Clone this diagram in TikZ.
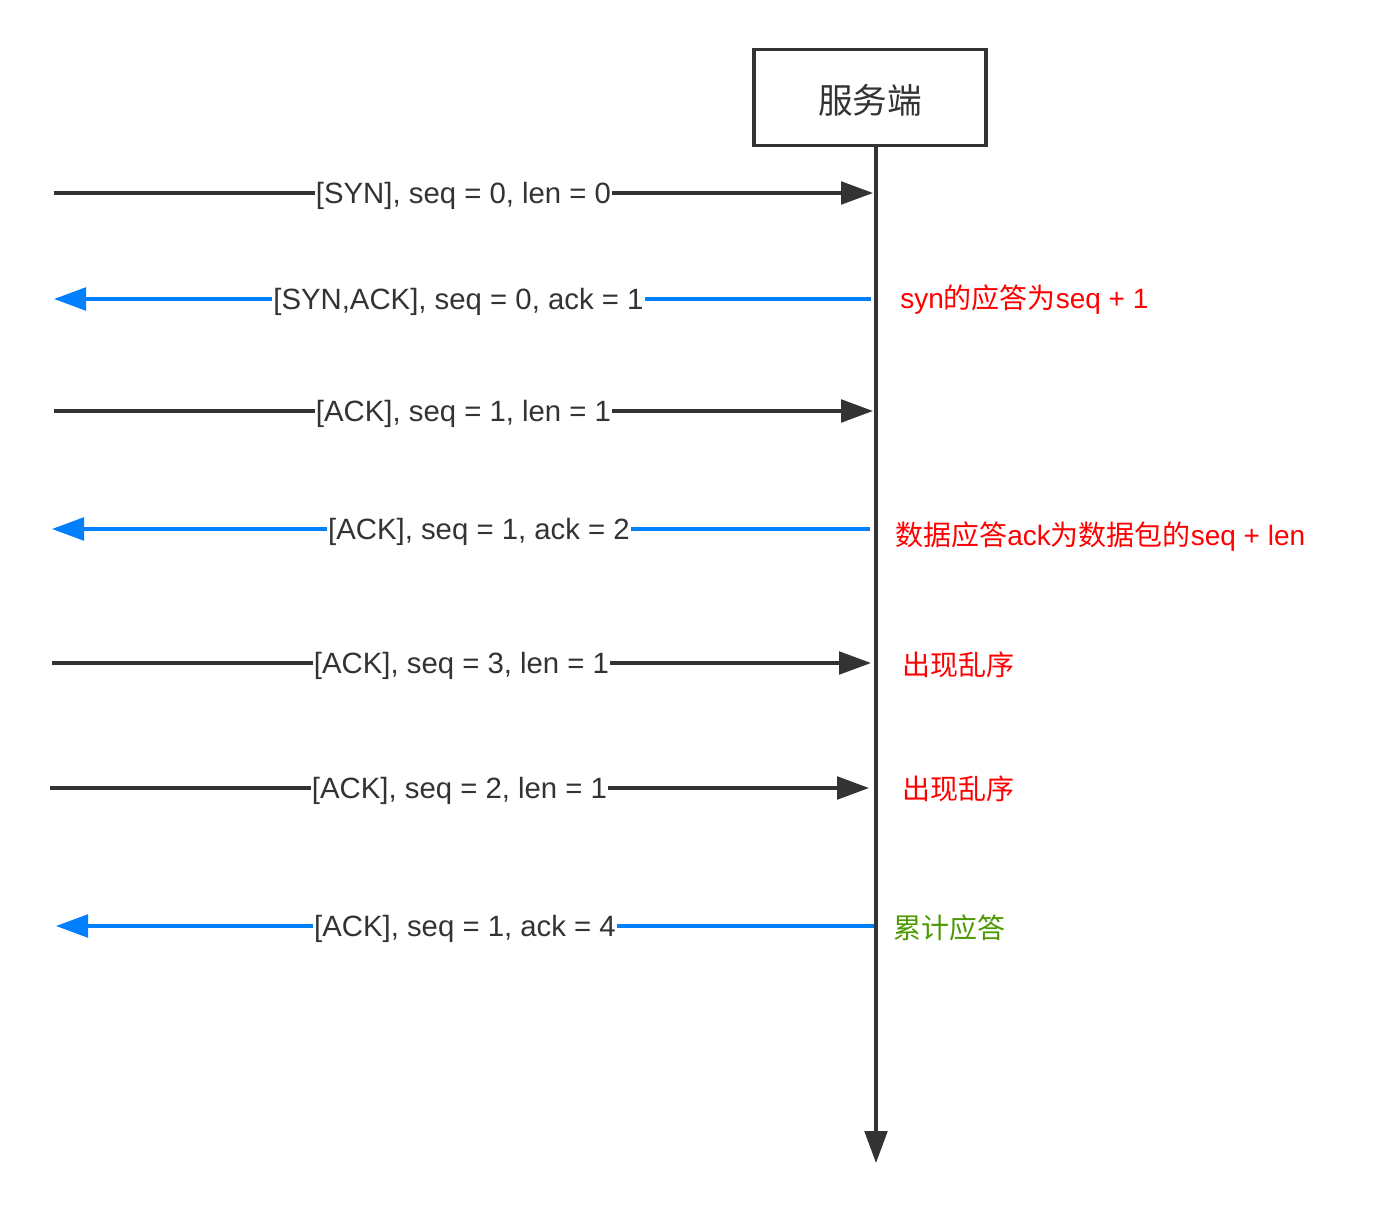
\documentclass[tikz,border=0pt]{standalone}
\usepackage{fontspec}
\setmainfont{Liberation Sans}
\newfontfamily\cjk{Noto Sans CJK SC}
\usetikzlibrary{arrows.meta}
\definecolor{ink}{HTML}{333333}
\definecolor{msgblue}{HTML}{007FFF}
\definecolor{notered}{HTML}{FF0000}
\definecolor{notegreen}{HTML}{4D9900}
\tikzset{
  msg/.style={line width=2.5pt, -{Triangle[length=24pt,width=17pt]}},
  req/.style={msg, ink},
  rsp/.style={msg, msgblue},
  lbl/.style={fill=white, text=ink, inner sep=1pt, yshift=-2.5pt, font=\fontsize{22}{24}\selectfont},
  note/.style={anchor=west, inner sep=0pt, font=\fontsize{21}{24}\selectfont},
}
\begin{document}
\begin{tikzpicture}[x=0.75pt, y=-0.75pt]
\useasboundingbox (0,0) rectangle (1374,1212);
\node[draw=ink, line width=2.6pt, minimum width=174pt, minimum height=72pt, inner sep=0pt,
      font=\fontsize{26}{30}\selectfont\cjk, text=ink] (srv) at (870,97.5) {\raisebox{-2.5pt}[\height][\depth]{服务端}};
\coordinate (life) at (876,146);
\coordinate (lifeend) at (876,1163);
\draw[ink, line width=2.5pt, -{Triangle[length=24pt,width=17pt]}] (life) -- (lifeend);

\coordinate (a1l) at (54,193);  \coordinate (a1r) at (873,193);
\coordinate (a2l) at (54,299);  \coordinate (a2r) at (871,299);
\coordinate (a3l) at (54,411);  \coordinate (a3r) at (873,411);
\coordinate (a4l) at (52,529);  \coordinate (a4r) at (870,529);
\coordinate (a5l) at (52,663);  \coordinate (a5r) at (871,663);
\coordinate (a6l) at (50,788);  \coordinate (a6r) at (869,788);
\coordinate (a7l) at (56,926);  \coordinate (a7r) at (874,926);

\draw[req] (a1l) -- node[lbl] (t1) {[SYN], seq = 0, len = 0} (a1r);
\draw[rsp] (a2r) -- node[lbl, pos=0.505] (t2) {[SYN,ACK], seq = 0, ack = 1} (a2l);
\draw[req] (a3l) -- node[lbl] (t3) {[ACK], seq = 1, len = 1} (a3r);
\draw[rsp] (a4r) -- node[lbl, pos=0.478] (t4) {[ACK], seq = 1, ack = 2} (a4l);
\draw[req] (a5l) -- node[lbl] (t5) {[ACK], seq = 3, len = 1} (a5r);
\draw[req] (a6l) -- node[lbl] (t6) {[ACK], seq = 2, len = 1} (a6r);
\draw[rsp] (a7r) -- node[lbl, pos=0.5] (t7) {[ACK], seq = 1, ack = 4} (a7l);

\node[note, text=notered] (n2) at (900,300) {syn{\cjk 的应答为}seq + 1};
\node[note, text=notered] (n4) at (895,537) {{\cjk 数据应答}ack{\cjk 为数据包的}seq + len};
\node[note, text=notered] (n5) at (902,665) {{\cjk 出现乱序}};
\node[note, text=notered] (n6) at (902,789) {{\cjk 出现乱序}};
\node[note, text=notegreen] (n7) at (893,928) {{\cjk 累计应答}};
\end{tikzpicture}
\end{document}
